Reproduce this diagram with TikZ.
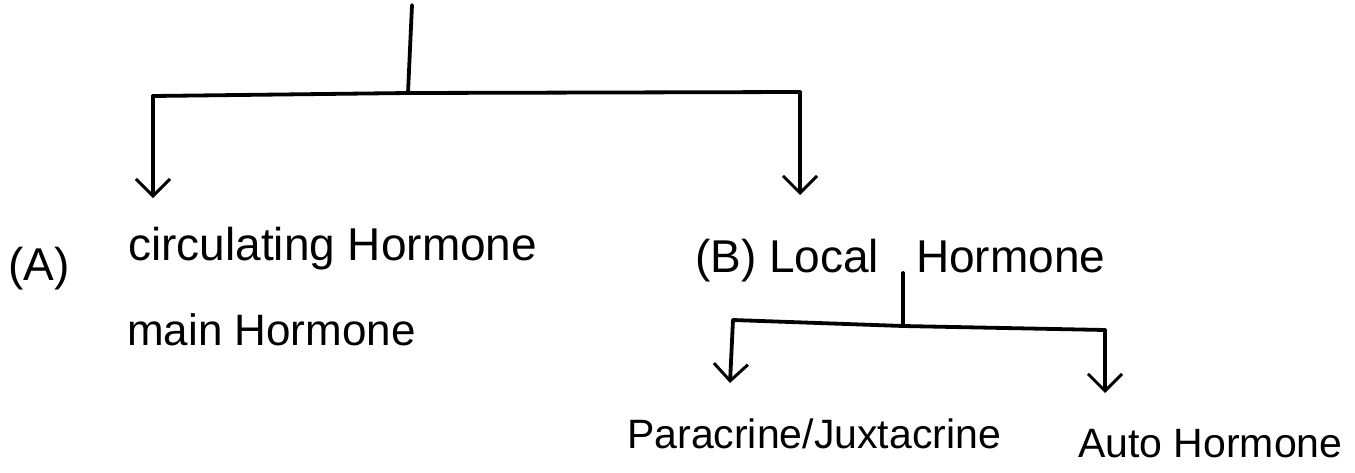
\documentclass[tikz,border=0pt]{standalone}
\usepackage{fontspec}
\setmainfont{Liberation Sans}
\usetikzlibrary{arrows.meta}
\tikzset{
  lbl/.style={inner sep=0pt, anchor=base west, font=\fontsize{46}{52}\selectfont},
  lblmid/.style={inner sep=0pt, anchor=base west, font=\fontsize{44}{50}\selectfont},
  lblsmall/.style={inner sep=0pt, anchor=base west, font=\fontsize{41}{48}\selectfont},
  conn/.style={line width=3.8pt, line cap=round, line join=round},
  arr/.style={conn, -{Straight Barb[length=17pt,width=34pt,line width=3pt]}}
}
\begin{document}
\begin{tikzpicture}[x=1pt,y=-1pt]
  \useasboundingbox (0,0) rectangle (1355,472);
  % labels
  \node[lbl] (A) at (8,280) {(A)};
  \node[lbl] (circ) at (128,260) {circulating Hormone};
  \node[lblmid] (main) at (127,345) {main Hormone};
  \node[lbl] (B) at (695,272) {(B) Local\hspace{0.8em}Hormone};
  \node[lblsmall] (para) at (627,448) {Paracrine/Juxtacrine};
  \node[lblsmall] (auto) at (1078,457) {Auto Hormone};
  % junction points
  \coordinate (top) at (412,5);
  \coordinate (j1) at (408,93);
  \coordinate (l1) at (153,96);
  \coordinate (r1) at (800,92);
  \coordinate (la) at (153,198);
  \coordinate (ra) at (800,195);
  \coordinate (btop) at (903,273);
  \coordinate (j2) at (903,326);
  \coordinate (l2) at (733,320);
  \coordinate (r2) at (1105,330);
  \coordinate (la2) at (730,383);
  \coordinate (ra2) at (1105,393);
  % connectors
  \draw[conn] (top) -- (j1);
  \draw[conn] (l1) -- (j1) -- (r1);
  \draw[arr] (l1) -- (la);
  \draw[arr] (r1) -- (ra);
  \draw[conn] (btop) -- (j2);
  \draw[conn] (l2) -- (j2) -- (r2);
  \draw[arr] (l2) -- (la2);
  \draw[arr] (r2) -- (ra2);
\end{tikzpicture}
\end{document}
